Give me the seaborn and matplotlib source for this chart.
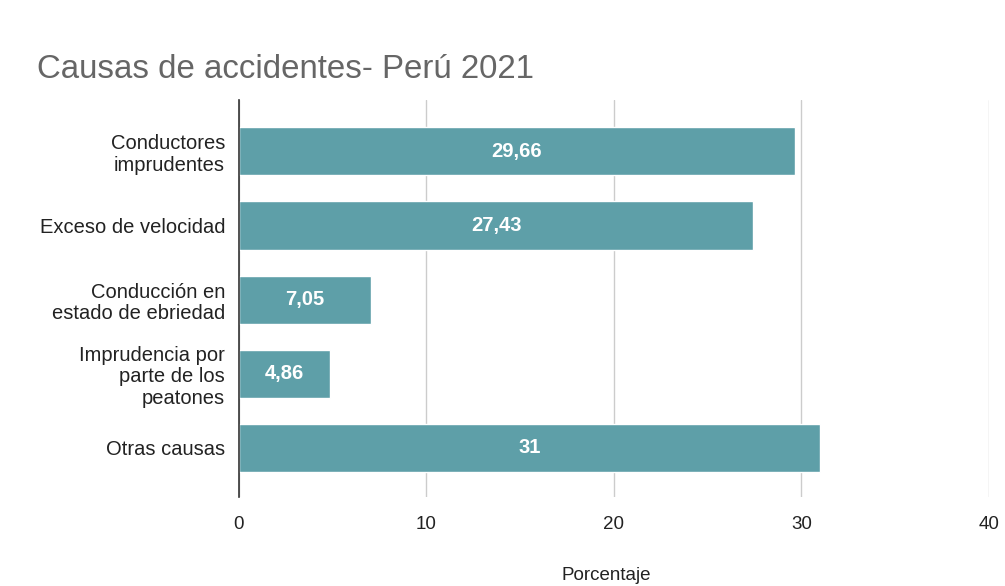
import matplotlib
matplotlib.use("Agg")
import matplotlib.pyplot as plt
import seaborn as sns
import pandas as pd

categorias = ["Conductores\nimprudentes", "Exceso de velocidad",
              "Conducción en\nestado de ebriedad",
              "Imprudencia por\nparte de los\npeatones", "Otras causas"]
valores = [29.66, 27.43, 7.05, 4.86, 31]
etiquetas = ["29,66", "27,43", "7,05", "4,86", "31"]
ticks_x = [0, 10, 20, 30, 40]

sns.set_theme(style="white")
plt.rcParams['font.family'] = ['Liberation Sans', 'DejaVu Sans']

df = pd.DataFrame({"causa": categorias, "valor": valores})

fig = plt.figure(figsize=(10.05, 5.86), dpi=100)
ax = fig.add_axes([0.2378, 0.152, 0.7462, 0.677])

sns.barplot(data=df, y="causa", x="valor", orient="h", color="#5E9FA8",
            saturation=1, width=0.65, ax=ax, zorder=3)

for patch, lab in zip(ax.patches, etiquetas):
    cx = patch.get_x() + patch.get_width() / 2
    cy = patch.get_y() + patch.get_height() / 2
    ax.text(cx, cy, lab, ha="center", va="center", color="white",
            fontsize=14.5, fontweight="bold", zorder=4)

ax.set_xlim(0, 40)
ax.set_ylim(4.66, -0.69)
ax.set_xticks(ticks_x)
ax.set_xticklabels([str(t) for t in ticks_x], fontsize=13.5, color="#222222")
ax.tick_params(axis="x", length=0, pad=14)
ax.tick_params(axis="y", length=0, pad=10, labelsize=14.5, labelcolor="#222222")
for lbl in ax.get_yticklabels():
    lbl.set_horizontalalignment("right")
    lbl.set_multialignment("right")
    lbl.set_linespacing(1.15)
ax.grid(axis="x", color="#cccccc", linewidth=1, zorder=0)
for s in ["top", "right", "bottom"]:
    ax.spines[s].set_visible(False)
ax.spines["left"].set_color("#333333")
ax.spines["left"].set_linewidth(1.2)
ax.spines["left"].set_zorder(5)

ax.set_ylabel("")
ax.set_xlabel("Porcentaje", fontsize=13.5, color="#222222")
ax.xaxis.label.set_verticalalignment("center")
ax.xaxis.set_label_coords(0.49, -0.197)

fig.text(0.037, 0.882, "Causas de accidentes- Perú 2021", fontsize=23.8,
         color="#666666", ha="left", va="center")

fig.savefig("out.png", dpi=100)
